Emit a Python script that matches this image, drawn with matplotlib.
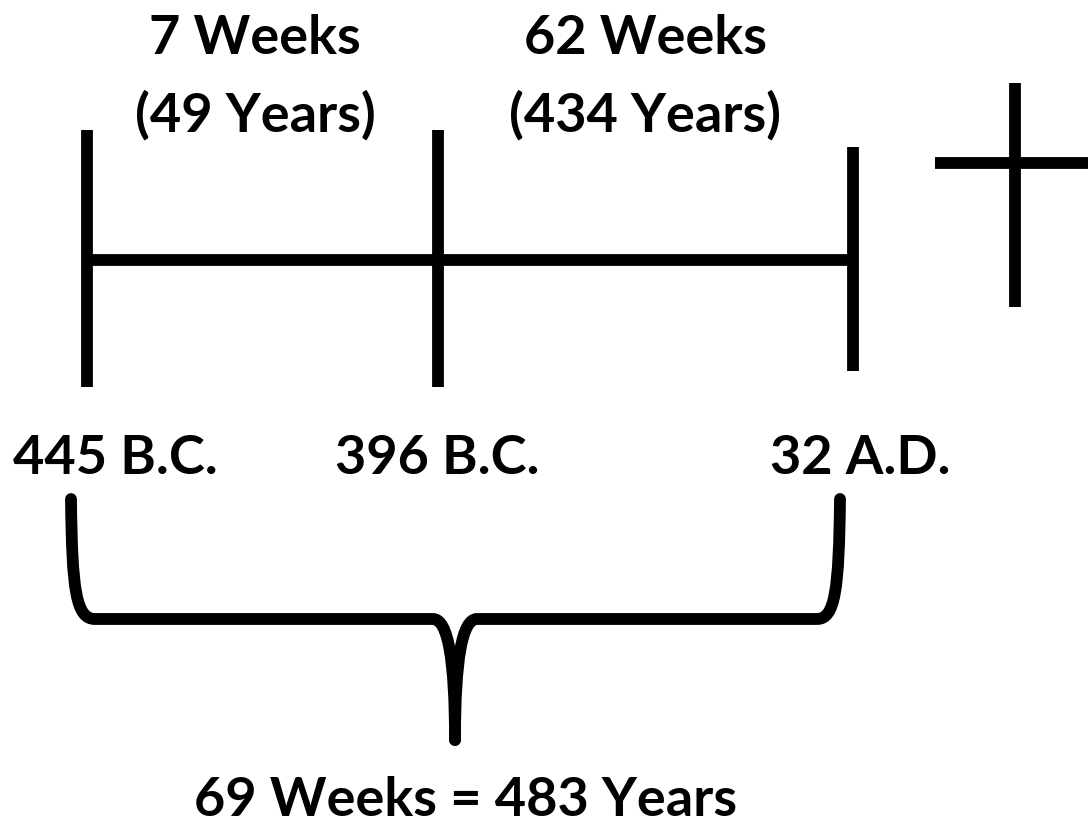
import matplotlib
matplotlib.use("Agg")
import matplotlib.pyplot as plt
from matplotlib.path import Path
from matplotlib.patches import PathPatch

# Data (labels)
period_titles = ["7 Weeks", "62 Weeks"]
period_years = ["(49 Years)", "(434 Years)"]
date_labels = ["445 B.C.", "396 B.C.", "32 A.D."]
total_label = "69 Weeks = 483 Years"

# Layout (pixel coordinates)
W, H = 1088, 830
tick_x = [87, 438, 853]
tick_top = [130, 130, 147]
tick_bot = [387, 387, 371]
axis_y = 260
period_x = [255, 645]
date_x = [115, 437, 860]
LW = 8.5
FONT = "Lato"
FS = 39

fig = plt.figure(figsize=(W / 100, H / 100), dpi=100)
ax = fig.add_axes([0, 0, 1, 1])
ax.set_xlim(0, W)
ax.set_ylim(H, 0)
ax.axis("off")

# timeline
ax.plot([tick_x[0], tick_x[-1]], [axis_y, axis_y], color="black", lw=LW, solid_capstyle="butt")
for x, t, b in zip(tick_x, tick_top, tick_bot):
    ax.plot([x, x], [t, b], color="black", lw=LW, solid_capstyle="butt")

# cross
ax.plot([935, 1088], [163, 163], color="black", lw=LW, solid_capstyle="butt")
ax.plot([1015, 1015], [83, 307], color="black", lw=LW, solid_capstyle="butt")

# period labels
for x, t, y in zip(period_x, period_titles, period_years):
    ax.text(x, 39, t, ha="center", va="center", fontsize=FS, fontweight="bold", family=FONT)
    ax.text(x, 115, y, ha="center", va="center", fontsize=FS, fontweight="bold", family=FONT)

for x, d in zip(date_x, date_labels):
    ax.text(x, 458, d, ha="center", va="center", fontsize=FS, fontweight="bold", family=FONT)

ax.text(466, 800, total_label, ha="center", va="center", fontsize=FS, fontweight="bold", family=FONT)

# brace
verts_l = [(71, 499), (72, 590), (76, 619), (95, 619), (433, 619),
           (448, 619), (455, 660), (455, 740)]
codes_l = [Path.MOVETO, Path.CURVE4, Path.CURVE4, Path.CURVE4, Path.LINETO,
           Path.CURVE4, Path.CURVE4, Path.CURVE4]
verts_r = [(840, 499), (839, 590), (835, 619), (817, 619), (477, 619),
           (462, 619), (455, 660), (455, 740)]
for v in (verts_l, verts_r):
    p = PathPatch(Path(v, codes_l), facecolor="none", edgecolor="black", lw=LW,
                  capstyle="round", joinstyle="round")
    ax.add_patch(p)

fig.savefig("out.png", dpi=100, facecolor="white")
